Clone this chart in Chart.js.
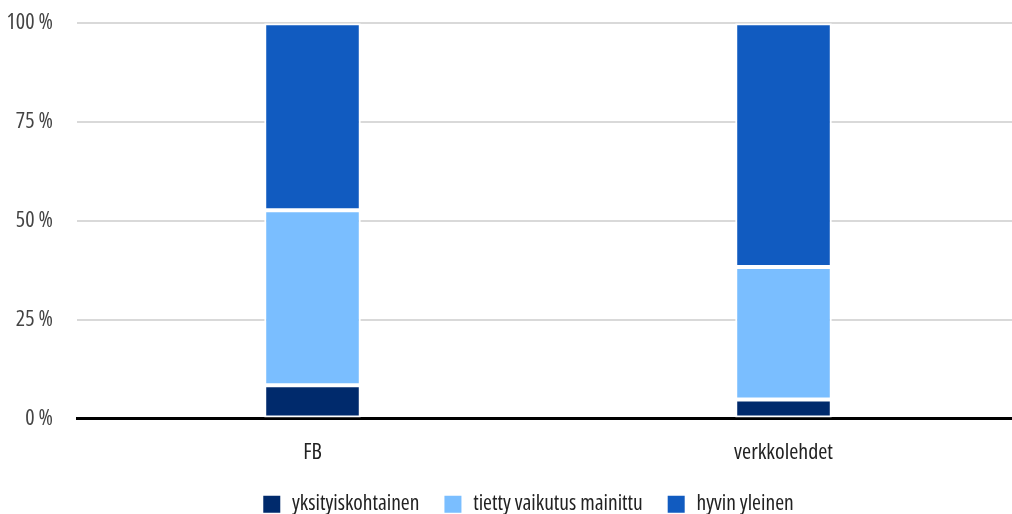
<!DOCTYPE html>
<html>
<head>
<meta charset="utf-8">
<script src="https://cdn.jsdelivr.net/npm/chart.js@4"></script>
<style>
html,body{margin:0;padding:0;overflow:hidden;background:#fff;width:1012px;height:514px;}
#wrap{position:relative;width:1030px;height:539px;margin-top:-14px;}
</style>
</head>
<body>
<div id="wrap"><canvas id="c" width="1030" height="539"></canvas></div>
<script>
const categories = ["FB", "verkkolehdet"];
const seriesNames = ["yksityiskohtainen", "tietty vaikutus mainittu", "hyvin yleinen"];
const yksityiskohtainen = [8.4, 4.8];
const tiettyVaikutus = [44.3, 33.5];
const hyvinYleinen = [47.3, 61.7];
const yTicks = [0, 25, 50, 75, 100];
const colors = ["#002a6c", "#7abeff", "#115bc0"];

const FONT = "'Open Sans', sans-serif";
Chart.defaults.font.family = FONT;
Chart.defaults.font.size = 20;
Chart.defaults.font.weight = 'condensed';

const legendShift = {
  id: 'legendShift',
  afterLayout(chart) {
    if (chart.legend) { chart.legend.left += 18.5; chart.legend.right += 18.5; }
  }
};

const values = [yksityiskohtainen, tiettyVaikutus, hyvinYleinen];
new Chart(document.getElementById('c'), {
  type: 'bar',
  data: {
    labels: categories,
    datasets: seriesNames.map((n, i) => ({
      label: n,
      data: values[i],
      backgroundColor: colors[i],
      borderColor: '#ffffff',
      borderWidth: 2,
      borderSkipped: false,
      categoryPercentage: 1,
      barPercentage: 0.205
    }))
  },
  options: {
    responsive: false,
    animation: false,
    layout: { padding: { left: 0, top: 10, right: 11, bottom: 0 } },
    plugins: {
      tooltip: { enabled: false },
      legend: {
        position: 'bottom',
        labels: {
          color: '#222',
          boxWidth: 19,
          boxHeight: 19,
          padding: 24,
          font: { size: 21.5, weight: 'condensed' }
        }
      }
    },
    scales: {
      x: {
        stacked: true,
        grid: { display: false, drawTicks: false },
        border: { color: '#000', width: 3 },
        ticks: { color: '#222', padding: 21, font: { size: 22, weight: 'condensed' } },
        afterFit: (s) => { s.height = 51; }
      },
      y: {
        stacked: true,
        min: 0,
        max: 100,
        afterBuildTicks: (s) => { s.ticks = yTicks.map(v => ({ value: v })); },
        grid: { color: '#d9d9d9', lineWidth: 2, drawTicks: false },
        border: { display: false },
        ticks: {
          color: '#444',
          padding: 24,
          font: { size: 22, weight: 'condensed' },
          callback: (v) => v + ' %'
        },
        afterFit: (s) => { s.width = 77; }
      }
    }
  },
  plugins: [legendShift]
});
</script>
</body>
</html>
